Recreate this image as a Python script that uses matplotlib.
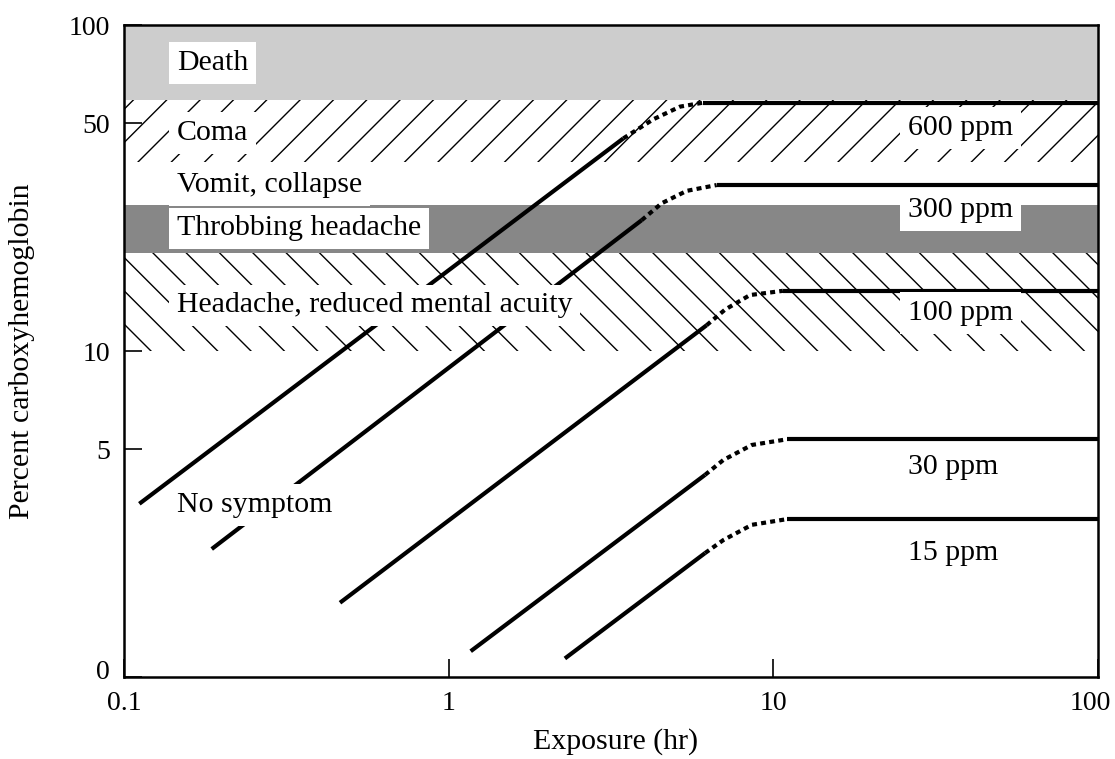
import matplotlib.pyplot as plt
from matplotlib.ticker import NullLocator
from matplotlib.transforms import ScaledTranslation


# 各浓度曲线名称
levels = ["600 ppm", "300 ppm", "100 ppm", "30 ppm", "15 ppm"]

# 直线上升段（起点 -> 终点），Exposure (hr) / Percent
rise_x = [[0.1115, 3.45], [0.1863, 3.93], [0.4627, 6.23], [1.169, 6.16], [2.28, 6.16]]
rise_y = [[3.40, 44.9], [2.47, 25.2], [1.69, 12.0], [1.20, 4.17], [1.14, 2.40]]

# 虚线过渡段
bend_x = [
    [3.45, 4.27, 5.16, 6.08],
    [3.93, 4.53, 5.41, 6.69],
    [6.23, 7.10, 8.47, 10.7],
    [6.16, 7.01, 8.58, 11.0],
    [6.16, 7.01, 8.58, 11.0],
]
bend_y = [
    [44.9, 51.4, 56.2, 57.8],
    [25.2, 28.4, 31.0, 32.3],
    [12.0, 13.4, 14.85, 15.3],
    [4.17, 4.63, 5.15, 5.36],
    [2.40, 2.63, 2.93, 3.05],
]

# 平台值（一直延续到 100 hr）
plateau_y = [57.8, 32.3, 15.3, 5.36, 3.05]
plateau_end = 100

# 症状分区
zones = ["Death", "Coma", "Vomit, collapse", "Throbbing headache",
         "Headache, reduced mental acuity", "No symptom"]
zone_lo = [59, 38, 28, 20, 10, 1]
zone_hi = [100, 59, 38, 28, 20, 10]

# 文字位置
zone_label_x = 0.1456
zone_label_y = [76.4, 46.6, 32.3, 23.8, 13.8, 3.37]
level_label_x = 26
level_label_y = [48.3, 27.1, 13.1, 4.41, 2.40]

x_ticks = [0.1, 1, 10, 100]
x_tick_labels = ["0.1", "1", "10", "100"]
y_ticks = [1, 5, 10, 50, 100]
y_tick_labels = ["0", "5", "10", "50", "100"]


plt.rcParams["font.family"] = ["Liberation Serif", "DejaVu Serif"]
plt.rcParams["hatch.linewidth"] = 1.0

fig = plt.figure(figsize=(11.15, 7.59), dpi=100)
ax = fig.add_axes([0.1112, 0.1080, 0.8736, 0.8590])
ax.set_xscale("log")
ax.set_yscale("log")
ax.set_xlim(0.1, 100)
ax.set_ylim(1, 100)

# 背景分区：灰色填充 / 斜线
zone_style = {
    "Death": dict(facecolor="#cdcdcd", hatch=None),
    "Coma": dict(facecolor="white", hatch="/"),
    "Vomit, collapse": dict(facecolor="white", hatch=None),
    "Throbbing headache": dict(facecolor="#878787", hatch=None),
    "Headache, reduced mental acuity": dict(facecolor="white", hatch="\\"),
    "No symptom": dict(facecolor="white", hatch=None),
}
for name, lo, hi in zip(zones, zone_lo, zone_hi):
    st = zone_style[name]
    ax.axhspan(lo, hi, facecolor=st["facecolor"], edgecolor="black",
               hatch=st["hatch"], linewidth=0, zorder=0)

# 曲线：实线 + 虚线过渡 + 平台
for i in range(len(levels)):
    ax.plot(rise_x[i], rise_y[i], color="black", linewidth=3.0,
            solid_capstyle="butt", zorder=2)
    ax.plot(bend_x[i], bend_y[i], color="black", linewidth=3.0,
            linestyle=(0, (1.2, 1.0)), dash_capstyle="butt", zorder=2)
    ax.plot([bend_x[i][-1], plateau_end], [plateau_y[i], plateau_y[i]],
            color="black", linewidth=3.0, solid_capstyle="butt", zorder=2)

box = dict(facecolor="white", edgecolor="none", pad=5.5)
for name, y in zip(zones, zone_label_y):
    ax.text(zone_label_x, y, name, fontsize=21.5, ha="left", va="center",
            bbox=box, zorder=3)
for name, y in zip(levels, level_label_y):
    ax.text(level_label_x, y, name, fontsize=21.5, ha="left", va="center",
            bbox=box, zorder=3)

ax.set_xticks(x_ticks)
ax.set_xticklabels(x_tick_labels)
ax.set_yticks(y_ticks)
ax.set_yticklabels(y_tick_labels)
ax.xaxis.set_minor_locator(NullLocator())
ax.yaxis.set_minor_locator(NullLocator())
ax.tick_params(direction="in", length=13, width=1.2, labelsize=20, pad=10)

# 最右侧 "100" 稍微左移，避免超出画布
last = ax.get_xticklabels()[-1]
last.set_transform(last.get_transform() + ScaledTranslation(-0.08, 0, fig.dpi_scale_trans))
first_y = ax.get_yticklabels()[0]
first_y.set_transform(first_y.get_transform() + ScaledTranslation(0, 0.08, fig.dpi_scale_trans))

for sp in ax.spines.values():
    sp.set_linewidth(1.8)
    sp.set_zorder(4)

ax.set_xlabel("Exposure (hr)", fontsize=21.5)
ax.set_ylabel("Percent carboxyhemoglobin", fontsize=21.5)
ax.xaxis.set_label_coords(0.505, -0.078)
ax.yaxis.set_label_coords(-0.091, 0.5)

plt.savefig("out.png", dpi=100)
